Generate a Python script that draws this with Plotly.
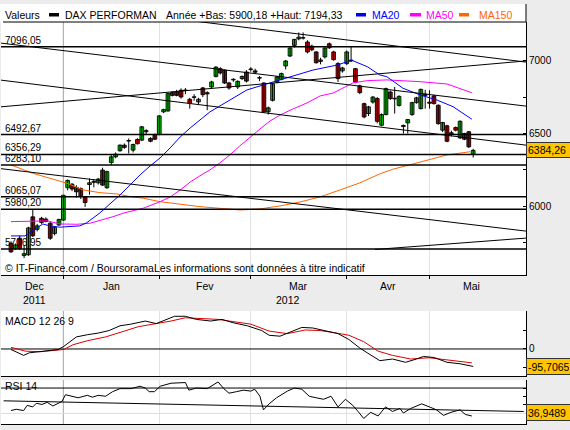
import plotly.graph_objects as go

W, H = 570, 430
FONT = "Liberation Sans, Arial, sans-serif"

# ---------------- data ----------------
idx = list(range(107))
opens = [5747,5712,5781,5662,5668,5928,5842,5918,5912,5884,
         5814,5872,5906,6128,6152,6130,6122,6066,6150,6165,
         6162,6249,6128,6301,6340,6382,6420,6448,6386,6459,
         6455,6512,6466,6493,6493,6649,6655,6781,6786,6797,
         6795,6735,6748,6717,6813,6780,6820,6892,6945,6934,
         6847,6868,6820,6877,6922,6940,6930,6880,6847,6649,
         6728,6854,6872,6964,7032,7105,7150,7155,7128,7100,
         7060,6995,7026,7116,7060,6980,6930,6980,7000,6945,
         6827,6705,6637,6716,6740,6557,6630,6785,6742,6693,
         6555,6573,6630,6712,6671,6770,6715,6758,6694,6523,
         6553,6505,6541,6470,6500,6512,6356]
highs = [5760,5745,5800,5735,5860,5975,5880,5928,5925,5895,
         5865,5915,6080,6185,6160,6145,6130,6070,6192,6185,
         6195,6265,6245,6352,6370,6425,6432,6466,6430,6468,
         6552,6530,6475,6500,6625,6670,6780,6790,6800,6810,
         6812,6745,6770,6745,6820,6790,6862,6962,6955,6940,
         6855,6880,6865,6898,6935,6955,6945,6895,6850,6685,
         6848,6895,6918,7005,7092,7150,7194,7194,7140,7110,
         7065,7020,7092,7125,7068,6990,6958,7070,7096,6950,
         6835,6712,6690,6758,6750,6638,6815,6795,6820,6762,
         6562,6600,6718,6752,6808,6800,6797,6765,6700,6580,
         6560,6520,6548,6590,6505,6518,6395]
lows = [5680,5700,5700,5645,5660,5790,5828,5880,5890,5770,
        5800,5865,5900,6110,6105,6060,6050,5996,6080,6130,
        6150,6140,6120,6283,6330,6375,6395,6363,6370,6425,
        6448,6490,6440,6455,6488,6640,6650,6755,6755,6740,
        6770,6671,6725,6700,6750,6660,6810,6885,6905,6840,
        6800,6855,6805,6868,6850,6925,6910,6860,6640,6630,
        6720,6845,6865,6940,7025,7090,7140,7145,7050,7065,
        6980,6975,7015,7080,7000,6854,6918,6970,6990,6845,
        6770,6605,6620,6705,6570,6550,6625,6730,6637,6685,
        6500,6500,6622,6705,6665,6670,6671,6700,6560,6510,
        6440,6480,6515,6462,6455,6400,6335]
closes = [5688,5735,5712,5675,5852,5798,5866,5890,5896,5781,
          5856,5910,6076,6178,6119,6100,6068,6026,6162,6172,
          6187,6146,6238,6340,6358,6420,6405,6452,6425,6430,
          6546,6520,6447,6461,6621,6664,6774,6762,6762,6751,
          6799,6706,6752,6735,6767,6772,6854,6956,6916,6847,
          6813,6872,6858,6892,6860,6943,6921,6884,6649,6676,
          6842,6888,6911,6998,7087,7146,7162,7157,7060,7075,
          6986,7005,7087,7089,7007,6877,6950,7060,7004,6854,
          6781,6614,6683,6750,6584,6630,6808,6740,6738,6755,
          6548,6596,6712,6745,6803,6762,6708,6705,6568,6575,
          6447,6498,6523,6584,6461,6409,6384.26]

ma20_x = [0, 3.2, 7.3, 8.9, 11.2, 15.8, 17.4, 20.4, 22.7, 25.0, 27.3, 29.6, 31.9, 34.2, 36.5,
          38.8, 41.1, 43.3, 45.6, 47.9, 54.1, 57.8, 64.0, 69.3, 74.8, 77.1, 78.4, 81.7, 84.6,
          86.2, 89.9, 93.8, 97.7, 101.4, 105.7]
ma20_y = [5797, 5797, 5879, 5866, 5857, 5866, 5888, 5955, 6017, 6078, 6147, 6216, 6277, 6332, 6401,
          6476, 6538, 6593, 6648, 6689, 6799, 6833, 6890, 6936, 6970, 6993, 7000, 6959, 6902,
          6890, 6811, 6765, 6730, 6684, 6598]
ma50_x = [0, 8.3, 11.2, 15.1, 18.1, 20.4, 23.4, 25.7, 27.3, 30.3, 34.2, 36.5, 38.8, 41.1, 43.3,
          45.6, 47.9, 50.2, 52.5, 54.8, 57.1, 59.4, 61.7, 64.7, 67.9, 70.9, 73.9, 78.4, 81.7,
          86.2, 93.8, 100.0, 105.7]
ma50_y = [5895, 5900, 5879, 5877, 5884, 5902, 5929, 5953, 5964, 5987, 6032, 6064, 6112, 6167, 6209,
          6250, 6298, 6353, 6415, 6476, 6531, 6586, 6627, 6669, 6710, 6758, 6778, 6847, 6863,
          6868, 6856, 6840, 6780]
ma150_x = [0, 5.0, 8.9, 12.8, 16.5, 20.4, 24.3, 27.3, 30.3, 34.2, 43.3, 47.9, 52.5, 57.1, 61.7,
           66.3, 70.9, 75.5, 80.0, 84.6, 87.6, 92.2, 100.0, 105.3]
ma150_y = [6284, 6227, 6193, 6159, 6113, 6094, 6085, 6067, 6056, 6032, 5998, 5989, 5975, 5982, 6003,
           6030, 6065, 6113, 6161, 6223, 6255, 6291, 6353, 6375]

macd_x = [0, 2.9, 4.2, 7.5, 10.8, 12.1, 15, 17.5, 20, 22.5, 25, 27.5, 30.8, 33.3, 35,
          37.5, 40, 42.5, 45.8, 48.4, 50.9, 54.2, 57.5, 59.2, 61.7, 64.2, 66.7, 69.2, 72.5, 75,
          77.5, 80, 81.7, 84.6, 87.5, 90.5, 93, 94.6, 97.1, 100, 103, 106]
macd_y = [-3, -35, -21, -12, -3, 14, 66, 78, 87, 101, 127, 136, 153, 139, 157,
          179, 179, 162, 153, 162, 144, 127, 101, 75, 70, 92, 118, 115, 97, 84,
          52, 5, -21, -64, -55, -73, -55, -41, -47, -73, -81, -95.7065]
signal_x = [0, 3.3, 6.7, 10.8, 12.1, 14.2, 17.5, 21.7, 25, 29.2, 33.3, 36.7, 40, 44.2, 47.5,
            50.9, 55, 59.2, 63.4, 67.5, 70.9, 74.2, 77.5, 80.9, 84.2, 87.5, 91.7, 95.9, 100,
            103.4, 105.7]
signal_y = [9, -12, -15, -8, -3, 23, 45, 66, 92, 122, 139, 153, 171, 165, 162,
            150, 136, 98, 84, 104, 101, 89, 75, 40, -12, -35, -55, -48, -59,
            -69, -76]

rsi_x = [0, 1.2, 2.9, 3.7, 5.0, 5.8, 7.1, 8.3, 9.6, 10.8,
         11.7, 12.5, 13.7, 15.4, 17.5, 18.7, 20.0, 21.7, 23.3, 25.0,
         27.5, 29.6, 30.8, 31.7, 32.9, 34.2, 36.7, 38.3, 40.0, 40.8,
         42.5, 45.0, 46.7, 47.5, 48.8, 50.0, 51.7, 53.3, 55.0, 55.9,
         57.1, 57.9, 59.2, 60.9, 63.4, 65.0, 66.7, 68.4, 70.0, 71.7,
         73.4, 75.0, 76.7, 78.4, 79.6, 80.9, 82.5, 84.2, 85.9, 87.5,
         89.2, 90.0, 91.7, 94.2, 96.3, 97.6, 99.2, 100.9, 103.0, 104.2,
         105.7]
rsi_y = [43.4, 44.9, 43.4, 49.5, 47.7, 52.0, 50.6, 53.1, 48.8, 52.0,
         54.2, 62.1, 60.3, 58.5, 61.4, 59.2, 61.4, 60.3, 65.7, 69.3,
         69.3, 72.1, 70.0, 65.7, 65.7, 72.1, 75.7, 76.5, 76.5, 67.5,
         70.0, 69.3, 74.7, 77.2, 69.3, 63.9, 65.7, 67.5, 66.4, 68.6,
         60.3, 44.2, 51.3, 58.5, 66.4, 70.0, 68.6, 60.3, 58.5, 56.7,
         60.3, 47.7, 56.7, 49.5, 42.3, 34.1, 41.3, 37.0, 47.7, 42.3,
         45.9, 40.5, 45.9, 51.3, 47.0, 44.2, 37.7, 41.3, 44.2, 38.8,
         36.9489]

levels = [7096.05, 6492.67, 6356.29, 6283.10, 6065.07, 5980.20, 5706.95]
level_labels = ["7096,05", "6492,67", "6356,29", "6283,10", "6065,07", "5980,20", "5706,95"]

# trend lines: (x0, y0, x1, y1) in (day index, price)
trend_lines = [(31.9, 7309.5, 119.0, 6987.0),
               (-3.7, 7125.6, 119.0, 6685.0),
               (-3.7, 6871.7, 119.0, 6417.0),
               (-3.7, 6679.5, 119.0, 7000.7),
               (-3.7, 6263.6, 119.0, 5827.0),
               (83.5, 5704.0, 119.0, 5784.0)]
rsi_trend = (-1.7, 54.9, 117.6, 42.3)

month_bounds = [12, 34, 55, 77, 96]
month_labels = ["Dec", "Jan", "Fev", "Mar", "Avr", "Mai"]
month_label_pos = [5.3, 23.0, 44.5, 66.0, 86.5, 105.7]
year_labels = ["2011", "2012"]
year_label_pos = [5.3, 63.5]

last_close = closes[-1]
last_macd = macd_y[-1]
last_rsi = rsi_y[-1]

# ---------------- style / layout constants ----------------
XR = [-2.294, 118.12]
XD = [1 / W, 526 / W]
def py(px):
    return 1 - px / H

Y1R = [5528.7, 7265.6]
Y2R = [-148, 208]
Y3R = [27.5, 79.5]

UP, DN = "#00cc00", "#cc0000"
BLUE, MAG, ORA = "#0000ff", "#ff00ff", "#ff6600"
YEL = "#ffc600"

fig = go.Figure()

# darker year separator (first month boundary) in each panel
for xa, ya, rr in (("x", "y", Y1R), ("x2", "y2", Y2R), ("x3", "y3", Y3R)):
    fig.add_trace(go.Scatter(x=[month_bounds[0], month_bounds[0]], y=rr, mode="lines",
                             line=dict(color="#a8a8a8", width=1), xaxis=xa, yaxis=ya, hoverinfo="skip"))

# wicks
wx, wy = [], []
for i, h, l in zip(idx, highs, lows):
    wx += [i, i, None]
    wy += [l, h, None]
fig.add_trace(go.Scatter(x=wx, y=wy, mode="lines", line=dict(color="black", width=1),
                         hoverinfo="skip", xaxis="x", yaxis="y"))

# bodies
for up, col in ((True, UP), (False, DN)):
    bx, bb, bh = [], [], []
    for i, o, c in zip(idx, opens, closes):
        if (c >= o) == up:
            bx.append(i)
            bb.append(min(o, c))
            bh.append(max(abs(c - o), 3))
    fig.add_trace(go.Bar(x=bx, y=bh, base=bb, width=0.86,
                         marker=dict(color=col, line=dict(color="black", width=0.9)),
                         xaxis="x", yaxis="y"))

# moving averages
for xs, ys, col in ((ma150_x, ma150_y, ORA), (ma50_x, ma50_y, MAG), (ma20_x, ma20_y, BLUE)):
    fig.add_trace(go.Scatter(x=xs, y=ys, mode="lines", line=dict(color=col, width=1),
                             xaxis="x", yaxis="y"))

# horizontal levels
for lv in levels:
    fig.add_trace(go.Scatter(x=[XR[0] - 2, XR[1] + 2], y=[lv, lv], mode="lines",
                             line=dict(color="black", width=1.5), xaxis="x", yaxis="y"))
# trend lines
for x0, y0, x1, y1 in trend_lines:
    fig.add_trace(go.Scatter(x=[x0, x1], y=[y0, y1], mode="lines",
                             line=dict(color="black", width=1), xaxis="x", yaxis="y"))

# MACD panel
fig.add_trace(go.Scatter(x=[XR[0] - 2, XR[1] + 2], y=[0, 0], mode="lines",
                         line=dict(color="black", width=1), xaxis="x2", yaxis="y2"))
fig.add_trace(go.Scatter(x=signal_x, y=signal_y, mode="lines", line=dict(color="#dd0000", width=1),
                         xaxis="x2", yaxis="y2"))
fig.add_trace(go.Scatter(x=macd_x, y=macd_y, mode="lines", line=dict(color="black", width=1),
                         xaxis="x2", yaxis="y2"))

# RSI panel
fig.add_trace(go.Scatter(x=[XR[0] - 2, XR[1] + 2], y=[40, 40], mode="lines",
                         line=dict(color="#dddddd", width=1), xaxis="x3", yaxis="y3"))
fig.add_trace(go.Scatter(x=[XR[0] - 2, XR[1] + 2], y=[70, 70], mode="lines",
                         line=dict(color="black", width=1), xaxis="x3", yaxis="y3"))
fig.add_trace(go.Scatter(x=[rsi_trend[0], rsi_trend[2]], y=[rsi_trend[1], rsi_trend[3]], mode="lines",
                         line=dict(color="black", width=1), xaxis="x3", yaxis="y3"))
fig.add_trace(go.Scatter(x=rsi_x, y=rsi_y, mode="lines", line=dict(color="black", width=1),
                         xaxis="x3", yaxis="y3"))

axfont = dict(family=FONT, size=10, color="black")
xcommon = dict(range=XR, domain=XD, tickvals=month_bounds, showticklabels=False,
               showgrid=True, gridcolor="#e2e2e2", gridwidth=1, zeroline=False,
               showline=True, linecolor="black", linewidth=1, fixedrange=True)
ycommon = dict(side="right", showline=True, linecolor="black", linewidth=1, ticks="inside",
               ticklen=3, tickcolor="black", showgrid=False, zeroline=False, tickfont=axfont,
               fixedrange=True)

fig.update_layout(
    width=W, height=H, margin=dict(l=0, r=0, t=0, b=0),
    paper_bgcolor="#ececec", plot_bgcolor="white", showlegend=False,
    barmode="overlay", font=dict(family=FONT, size=10, color="black"),
    xaxis=dict(**xcommon, anchor="y", ticks="outside", ticklen=3, tickcolor="black"),
    yaxis=dict(**ycommon, anchor="x", domain=[py(275), py(22)], range=Y1R,
               tickvals=[7000, 6750, 6500, 6250, 6000, 5750],
               ticktext=["7000", "", "6500", "", "6000", ""]),
    xaxis2=dict(**xcommon, anchor="y2", ticks=""),
    yaxis2=dict(**ycommon, anchor="x2", domain=[py(376), py(311)], range=Y2R,
                tickvals=[100, 0, -100], ticktext=["", "0", ""]),
    xaxis3=dict(**xcommon, anchor="y3", ticks=""),
    yaxis3=dict(**ycommon, anchor="x3", domain=[py(424), py(380)], range=Y3R,
                tickvals=[70, 60, 50], ticktext=["", "", ""]),
)

shapes = []
# header white area + separators
shapes.append(dict(type="rect", xref="paper", yref="paper", x0=0, x1=526 / W, y0=py(22), y1=py(4),
                   fillcolor="white", line=dict(width=0), layer="below"))
shapes.append(dict(type="line", xref="paper", yref="paper", x0=3 / W, x1=526 / W, y0=py(22), y1=py(22),
                   line=dict(color="black", width=1)))
shapes.append(dict(type="line", xref="paper", yref="paper", x0=526 / W, x1=526 / W, y0=py(22), y1=py(4),
                   line=dict(color="black", width=1)))
# legend swatches
for x0, x1, col in ((49, 59, "black"), (356, 366, BLUE), (410, 421, MAG), (459, 469, ORA)):
    shapes.append(dict(type="rect", xref="paper", yref="paper", x0=x0 / W, x1=x1 / W,
                       y0=py(16.5), y1=py(13), fillcolor=col, line=dict(width=0)))
fig.update_layout(shapes=shapes)

ann = []
def txt(x, y, s, color="black", size=10.5, xanchor="left", yanchor="middle", **kw):
    d = dict(x=x, y=y, text=s, showarrow=False, xanchor=xanchor, yanchor=yanchor,
             font=dict(family=FONT, size=size, color=color))
    d.update(kw)
    if "xref" not in d:
        d["xref"] = "paper"
    if "yref" not in d:
        d["yref"] = "paper"
    ann.append(d)

txt(3 / W, py(15), "Valeurs")
txt(63 / W, py(15), "DAX PERFORMAN")
txt(164 / W, py(15), "Année +Bas: 5900,18 +Haut: 7194,33")
txt(370 / W, py(15), "MA20", color=BLUE)
txt(424 / W, py(15), "MA50", color=MAG)
txt(477 / W, py(15), "MA150", color=ORA)

for lv, lab in zip(levels, level_labels):
    txt(3 / W, lv, lab, size=10, yanchor="bottom", yref="y", yshift=-1)

txt(3 / W, py(268), "© IT-Finance.com / BoursoramaLes informations sont données à titre indicatif")

for pos, lab in zip(month_label_pos, month_labels):
    txt(pos, py(286), lab, xref="x", xanchor="center")
for pos, lab in zip(year_label_pos, year_labels):
    txt(pos, py(300), lab, xref="x", xanchor="center")

txt(3 / W, py(321), "MACD 12 26 9")
txt(3 / W, py(386), "RSI 14")

box = dict(bgcolor=YEL, bordercolor="#333333", borderwidth=1, borderpad=1, width=41, align="left")
txt(526 / W, last_close, f"{last_close:.2f}".replace(".", ","), yref="y", size=10.5, height=12, **box)
txt(526 / W, py(366), f"{last_macd:.4f}".replace(".", ","), size=10.5, height=13, **box)
txt(526 / W, py(412), f"{last_rsi:.4f}".replace(".", ","), size=10.5, height=13, **box)

fig.update_layout(annotations=ann)
fig.write_html("out.html")
